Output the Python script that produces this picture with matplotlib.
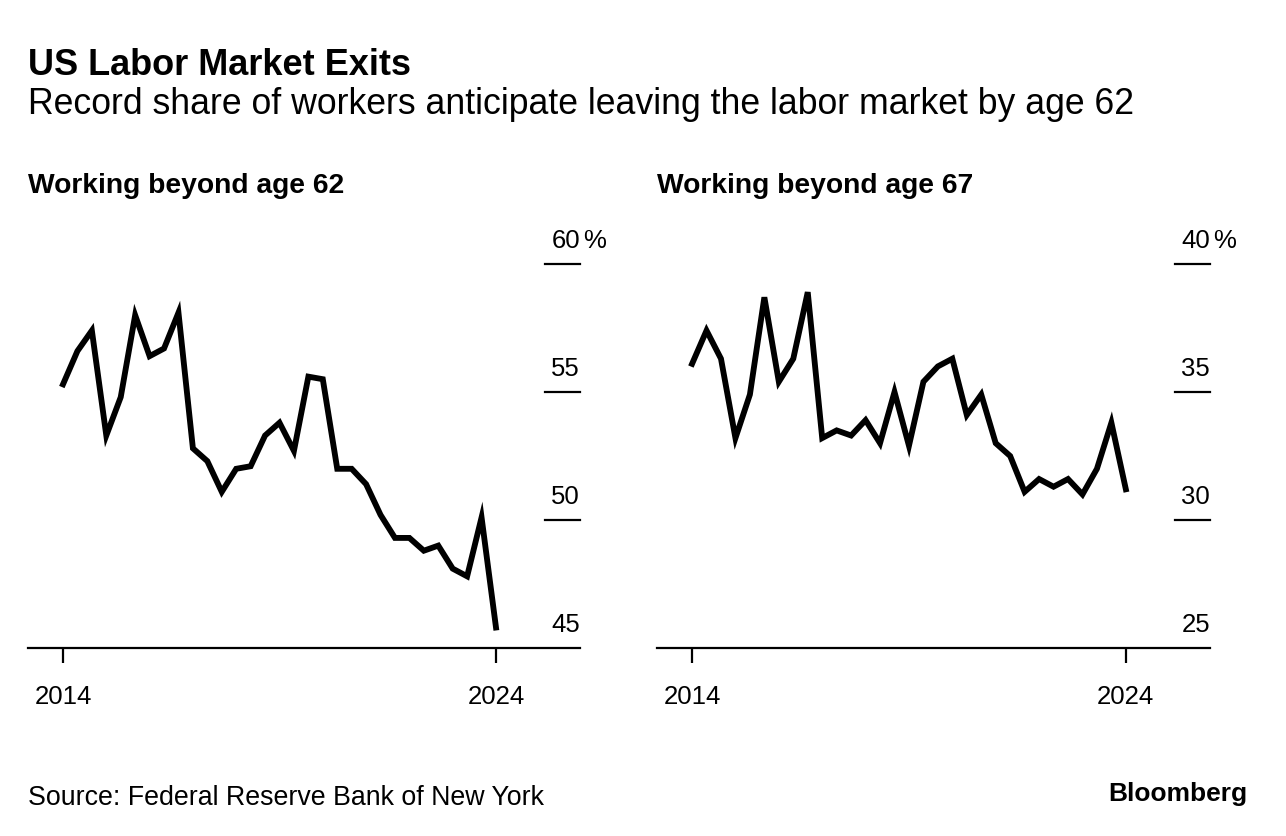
from matplotlib import pyplot as plt
from matplotlib import transforms
import numpy as np

# survey waves every four months, March 2014 to March 2024
years = 2014 + np.arange(31) / 3

beyond_62 = [55.3, 56.6, 57.4, 53.3, 54.8, 58.0, 56.4, 56.7, 58.1, 52.8,
             52.3, 51.1, 52.0, 52.1, 53.3, 53.8, 52.7, 55.6, 55.5, 52.0,
             52.0, 51.4, 50.2, 49.3, 49.3, 48.8, 49.0, 48.1, 47.8, 50.1,
             45.8]
beyond_67 = [36.1, 37.4, 36.3, 33.2, 34.9, 38.7, 35.4, 36.3, 38.9, 33.2,
             33.5, 33.3, 33.9, 33.0, 35.0, 32.9, 35.4, 36.0, 36.3, 34.1,
             34.9, 33.0, 32.5, 31.1, 31.6, 31.3, 31.6, 31.0, 32.0, 33.8,
             31.2]

ticks_62 = [45, 50, 55, 60]
ticks_67 = [25, 30, 35, 40]

W, H = 1286, 836
plt.rcParams['font.family'] = ['Liberation Sans', 'DejaVu Sans']
fig = plt.figure(figsize=(W / 100, H / 100), dpi=100)


def px_box(left, top, right, bottom):
    return [left / W, 1 - bottom / H, (right - left) / W, (bottom - top) / H]


def panel(box, values, yticks, title, title_x):
    ax = fig.add_axes(box)
    ax.plot(years, values, color='black', lw=4.2, solid_joinstyle='miter')
    lo, hi = yticks[0], yticks[-1]
    ax.set_ylim(lo, hi + 34 / 25.6)
    ax.set_xlim(2014 - 35 / 43.3, 2024 + 84 / 43.3)
    for side in ['top', 'right', 'left']:
        ax.spines[side].set_visible(False)
    ax.spines['bottom'].set_linewidth(1.6)
    ax.set_yticks([])
    ax.set_xticks([2014, 2024])
    ax.set_xticklabels(['2014', '2024'], fontsize=18.5)
    ax.tick_params(axis='x', length=11, width=1.6, pad=16)
    tr = ax.get_yaxis_transform()
    for v in yticks:
        if v != lo:
            ax.plot([0.937, 1.0], [v, v], color='black', lw=1.6,
                    transform=tr, clip_on=False)
        ax.text(1.0, v + 16 / 25.6, str(v), transform=tr, ha='right',
                va='baseline', fontsize=18.5)
    off = transforms.offset_copy(tr, fig=fig, x=3, y=0, units='dots')
    ax.text(1.0, hi + 16 / 25.6, '%', transform=off, ha='left',
            va='baseline', fontsize=18.5)
    fig.text(title_x / W, 1 - 193 / H, title, fontsize=20.3, weight='bold',
             va='baseline')
    return ax


panel(px_box(28, 230, 580, 648), beyond_62, ticks_62,
      'Working beyond age 62', 28)
panel(px_box(657, 230, 1210, 648), beyond_67, ticks_67,
      'Working beyond age 67', 657)

fig.text(28 / W, 1 - 75 / H, 'US Labor Market Exits', fontsize=26,
         weight='bold', va='baseline')
fig.text(28 / W, 1 - 114 / H,
         'Record share of workers anticipate leaving the labor market by age 62',
         fontsize=25.7, va='baseline')
fig.text(28 / W, 1 - 805 / H, 'Source: Federal Reserve Bank of New York',
         fontsize=19.3, va='baseline')
fig.text(1247 / W, 1 - 801 / H, 'Bloomberg', fontsize=19, weight='bold',
         ha='right', va='baseline')

plt.savefig('out.png', dpi=100)
